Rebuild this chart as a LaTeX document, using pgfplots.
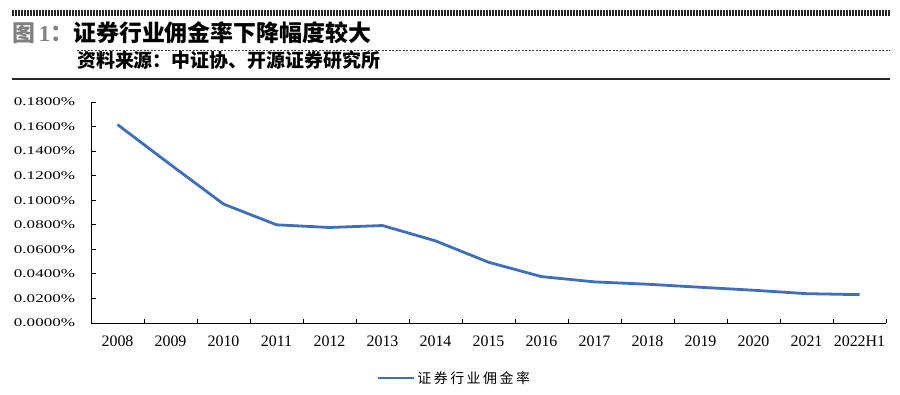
\documentclass[border=0pt]{standalone}
\usepackage{fontspec}
\setmainfont{Liberation Serif}
\newfontfamily\cjk{Noto Sans CJK SC}
\usepackage{pgfplots}
\pgfplotsset{compat=1.18}
\definecolor{lineblue}{RGB}{64,110,185}
\pgfplotstableread{
x y
0 0.1616
1 0.1290
2 0.0969
3 0.0800
4 0.0778
5 0.0794
6 0.0669
7 0.0495
8 0.0378
9 0.0335
10 0.0316
11 0.0291
12 0.0267
13 0.0239
14 0.0231
}\ratedata
\begin{document}
\begin{tikzpicture}[x=1bp,y=1bp]
\path[use as bounding box] (0,0) rectangle (900,-394);
\draw[line width=6bp, dash pattern=on 1.6bp off 1.4bp, black!85] (12,-13) -- (890,-13);
\node[anchor=west, inner sep=0] at (12,-33) {\fontsize{23}{25}\selectfont{\color{black!50}\cjk\bfseries 图\,{\rmfamily\bfseries 1}：}\cjk\bfseries 证券行业佣金率下降幅度较大};
\draw[line width=0.8bp, dash pattern=on 2bp off 1.5bp, black!75] (77,-50) -- (890,-50);
\node[anchor=west, inner sep=0] at (77,-60) {\fontsize{19}{21}\selectfont\cjk\bfseries 资料来源：中证协、开源证券研究所};
\draw[line width=2bp, black!85] (12,-79) -- (890,-79);
\begin{axis}[
  at={(91bp,-323bp)}, anchor=south west, scale only axis,
  width=795bp, height=221bp,
  xmin=-0.5, xmax=14.5, ymin=0, ymax=0.18,
  axis x line*=bottom, axis y line*=left,
  axis line style={black, line width=0.9bp, -},
  xtick={0,1,2,3,4,5,6,7,8,9,10,11,12,13,14},
  xticklabels={2008,2009,2010,2011,2012,2013,2014,2015,2016,2017,2018,2019,2020,2021,2022H1},
  minor xtick={-0.5,0.5,1.5,2.5,3.5,4.5,5.5,6.5,7.5,8.5,9.5,10.5,11.5,12.5,13.5,14.5},
  tick align=inside,
  tick style={black, line width=0.9bp},
  major x tick style={draw=none},
  major tick length=4.5bp, minor tick length=4.5bp,
  ytick={0,0.02,0.04,0.06,0.08,0.10,0.12,0.14,0.16,0.18},
  yticklabel={\pgfmathprintnumber[fixed,fixed zerofill,precision=4]{\tick}\%},
  /pgf/number format/assume math mode=true,
  y tick label style={font=\fontsize{11.8}{12}\selectfont, xscale=1.45, anchor=east, xshift=-7.5bp},
  x tick label style={font=\fontsize{16}{18}\selectfont, yshift=-9bp},
  legend style={draw=none, fill=none, at={(0.457,-0.249)}, anchor=center,
    font=\fontsize{14}{16}\selectfont},
  legend image code/.code={\draw[#1] (0bp,0bp) -- (36bp,0bp);},
]
\addplot[lineblue, line width=2.8bp, line join=round] table[x=x,y=y] {\ratedata};
\addlegendentry{\cjk\addfontfeature{LetterSpace=18}证券行业佣金率}
\end{axis}
\end{tikzpicture}
\end{document}
